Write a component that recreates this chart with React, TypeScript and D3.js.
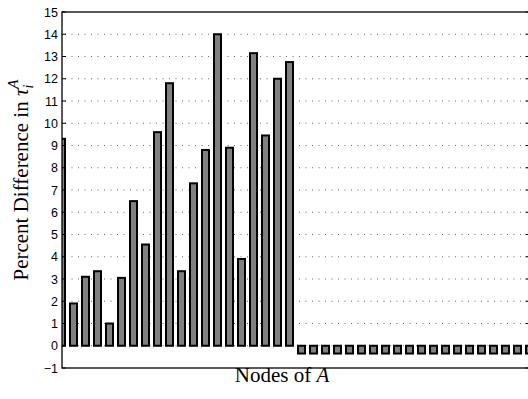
import React, { useRef, useEffect } from "react";
import * as d3 from "d3";

// percent difference per node of A (first 20 nodes positive, the rest slightly negative)
const positiveValues = [
  9.3, 1.9, 3.1, 3.35, 1.0, 3.05, 6.5, 4.55, 9.6, 11.8, 3.35, 7.3, 8.8, 14.0,
  8.9, 3.9, 13.15, 9.45, 12.0, 12.75,
];
const negativeValues = [
  -0.35, -0.35, -0.35, -0.35, -0.35, -0.35, -0.35, -0.35, -0.35, -0.35, -0.35,
  -0.35, -0.35, -0.35, -0.35, -0.35, -0.35, -0.35, -0.35, -0.35,
];
const yTicks = [-1, 0, 1, 2, 3, 4, 5, 6, 7, 8, 9, 10, 11, 12, 13, 14, 15];

const App = () => {
  const ref = useRef<SVGSVGElement>(null);

  useEffect(() => {
    const width = 528;
    const height = 399;
    const left = 62;
    const top = 12;
    const bottom = 368;
    const right = 529.5;

    const svg = d3.select(ref.current);
    svg.selectAll("*").remove();

    const values = [...positiveValues, ...negativeValues];

    const x = d3
      .scaleLinear()
      .domain([0, values.length - 1])
      .range([61.5, 529.5]);
    const y = d3.scaleLinear().domain([-1, 15]).range([bottom, top]);

    svg
      .append("rect")
      .attr("width", width)
      .attr("height", height)
      .attr("fill", "#fff");

    svg
      .append("defs")
      .append("clipPath")
      .attr("id", "plot-clip")
      .append("rect")
      .attr("x", left)
      .attr("y", top)
      .attr("width", right - left)
      .attr("height", bottom - top);

    // dotted grid
    svg
      .append("g")
      .selectAll("line")
      .data(yTicks.filter((t) => t > -1 && t < 15))
      .enter()
      .append("line")
      .attr("x1", left + 3)
      .attr("x2", right)
      .attr("y1", (d) => y(d))
      .attr("y2", (d) => y(d))
      .attr("stroke", "#666")
      .attr("stroke-width", 1)
      .attr("stroke-dasharray", "1,5.5");

    const bw = 7;
    svg
      .append("g")
      .attr("clip-path", "url(#plot-clip)")
      .selectAll("rect")
      .data(values)
      .enter()
      .append("rect")
      .attr("x", (d, i) => x(i) - bw / 2)
      .attr("width", bw)
      .attr("y", (d) => y(Math.max(d, 0)))
      .attr("height", (d) => Math.abs(y(d) - y(0)))
      .attr("fill", "#808080")
      .attr("stroke", "#000")
      .attr("stroke-width", 2);

    // axes box
    const frame = svg.append("g").attr("stroke", "#000").attr("fill", "none");
    frame
      .append("rect")
      .attr("x", left)
      .attr("y", top)
      .attr("width", right - left)
      .attr("height", bottom - top)
      .attr("stroke-width", 1.3);

    frame
      .selectAll("line.tl")
      .data(yTicks)
      .enter()
      .append("line")
      .attr("x1", left)
      .attr("x2", left + 4)
      .attr("y1", (d) => y(d))
      .attr("y2", (d) => y(d))
      .attr("stroke-width", 1);
    frame
      .selectAll("line.tr")
      .data(yTicks)
      .enter()
      .append("line")
      .attr("x1", right - 4)
      .attr("x2", right)
      .attr("y1", (d) => y(d))
      .attr("y2", (d) => y(d))
      .attr("stroke-width", 1);

    svg
      .append("g")
      .selectAll("text")
      .data(yTicks)
      .enter()
      .append("text")
      .attr("x", left - 4)
      .attr("y", (d) => y(d))
      .attr("dy", "0.36em")
      .attr("text-anchor", "end")
      .attr("font-family", "Liberation Sans, Arial, sans-serif")
      .attr("font-size", 12.5)
      .attr("fill", "#000")
      .text((d) => (d < 0 ? "\u2212" + Math.abs(d) : String(d)));

    svg
      .append("text")
      .attr("x", 282)
      .attr("y", 382)
      .attr("text-anchor", "middle")
      .attr("font-family", "Liberation Serif, Times New Roman, serif")
      .attr("font-size", 21)
      .attr("fill", "#000")
      .text("Nodes of ")
      .append("tspan")
      .attr("font-style", "italic")
      .text("A");

    const yl = svg
      .append("text")
      .attr("transform", "translate(28,180) rotate(-90)")
      .attr("text-anchor", "middle")
      .attr("font-family", "Liberation Serif, Times New Roman, serif")
      .attr("font-size", 21)
      .attr("fill", "#000");
    yl.append("tspan").text("Percent Difference in ");
    yl.append("tspan").attr("font-style", "italic").text("\u03c4");
    yl.append("tspan")
      .attr("font-style", "italic")
      .attr("font-size", 14)
      .attr("dy", 5)
      .text("i");
    yl.append("tspan")
      .attr("font-style", "italic")
      .attr("font-size", 15)
      .attr("dx", -4)
      .attr("dy", -15)
      .text("A");
  }, []);

  return (
    <svg
      ref={ref}
      width={528}
      height={399}
      style={{ position: "absolute", left: 0, top: 0, display: "block" }}
    />
  );
};

export default App;
